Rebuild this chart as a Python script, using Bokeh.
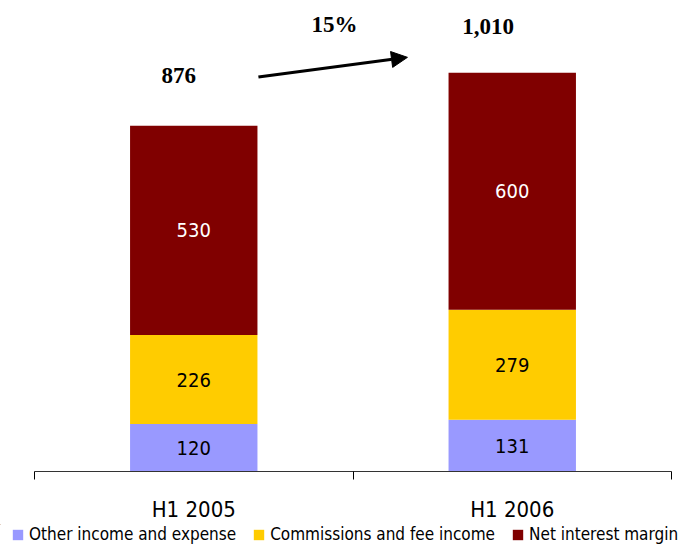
from bokeh.plotting import figure
from bokeh.layouts import column
from bokeh.models import (ColumnDataSource, LinearAxis, FixedTicker, Legend, LegendItem,
                          Label, Arrow, NormalHead, Range1d)
from bokeh.core.properties import value
from bokeh.embed import file_html
from bokeh.resources import INLINE

categories = ["H1 2005", "H1 2006"]
other = [120, 131]
commissions = [226, 279]
net_interest = [530, 600]
totals = [876, 1010]
growth_label = "15%"
total_labels = ["876", "1,010"]
series_names = ["Other income and expense", "Commissions and fee income", "Net interest margin"]
colors = ["#9999FF", "#FFCC00", "#800000"]

NARROW = "DejaVu Sans Condensed"

x = [i + 0.5 for i in range(len(categories))]
src = ColumnDataSource(dict(x=x, other=other, comm=commissions, net=net_interest))
stack_cols = ["other", "comm", "net"]

n = len(categories)
p = figure(width=683, height=524, x_range=Range1d(-0.1068, n + 0.0377), y_range=Range1d(0, 1193),
           x_axis_type=None, y_axis_type=None, toolbar_location=None,
           output_backend="svg", min_border_left=0, min_border_right=0,
           min_border_top=0, min_border_bottom=52, outline_line_color=None)

rs = p.vbar_stack(stack_cols, x="x", width=0.4, color=colors, line_color=None, source=src)

# segment value labels
lx, ly, lt, lc = [], [], [], []
for i in range(n):
    base = 0
    for vals, col in ((other, "black"), (commissions, "black"), (net_interest, "white")):
        v = vals[i]
        lx.append(x[i]); ly.append(base + v / 2); lt.append(str(v)); lc.append(col)
        base += v
p.text(x=lx, y=ly, text=lt, text_color=lc, text_align="center", text_baseline="middle",
       text_font=value(NARROW), text_font_size="20px")

xaxis = LinearAxis(ticker=FixedTicker(ticks=x, minor_ticks=list(range(n + 1))),
                   major_label_overrides={xi: c for xi, c in zip(x, categories)},
                   bounds=(0, n))
xaxis.axis_line_color = "#333333"
xaxis.major_tick_line_color = None
xaxis.major_tick_out = 0
xaxis.major_tick_in = 0
xaxis.minor_tick_out = 8
xaxis.minor_tick_in = 0
xaxis.minor_tick_line_color = "black"
xaxis.major_label_text_font = NARROW
xaxis.major_label_text_font_size = "22px"
xaxis.major_label_text_color = "black"
xaxis.major_label_standoff = 17
p.add_layout(xaxis, "below")

# total labels
offsets = [(-15, 50), (-24, 46)]
for i in range(n):
    p.add_layout(Label(x=x[i], y=totals[i], x_offset=offsets[i][0], y_offset=offsets[i][1],
                       text=total_labels[i], text_font="Liberation Serif",
                       text_font_style="bold", text_font_size="23px", text_color="black",
                       text_align="center", text_baseline="middle"))

p.add_layout(Label(x=0.942, y=1133, text=growth_label, text_font="Liberation Serif",
                   text_font_style="bold", text_font_size="23px", text_color="black",
                   text_align="center", text_baseline="middle"))

p.add_layout(Arrow(x_start=0.703, y_start=999, x_end=1.171, y_end=1049, line_width=3,
                   line_color="black",
                   end=NormalHead(size=16, fill_color="black", line_color="black")))

# legend strip (its bars lie outside its visible range; only the legend shows)
lg = figure(width=683, height=20, x_range=Range1d(100, 101), y_range=Range1d(-2000, -1000),
            x_axis_type=None, y_axis_type=None, toolbar_location=None,
            output_backend="svg", min_border=0, outline_line_color=None)
proxies = lg.vbar_stack(stack_cols, x="x", width=0.4, color=colors, line_color=None, source=src)
legend = Legend(items=[LegendItem(label=s, renderers=[r]) for s, r in zip(series_names, proxies)],
                orientation="horizontal", location=(11, 0),
                label_text_font=NARROW, label_text_font_size="17px", label_text_color="black",
                glyph_width=13, glyph_height=13, label_standoff=5, spacing=16,
                padding=0, margin=0, border_line_color=None, background_fill_alpha=0)
lg.add_layout(legend, "center")

open("out.html", "w").write(file_html(column(p, lg, spacing=0), INLINE))
